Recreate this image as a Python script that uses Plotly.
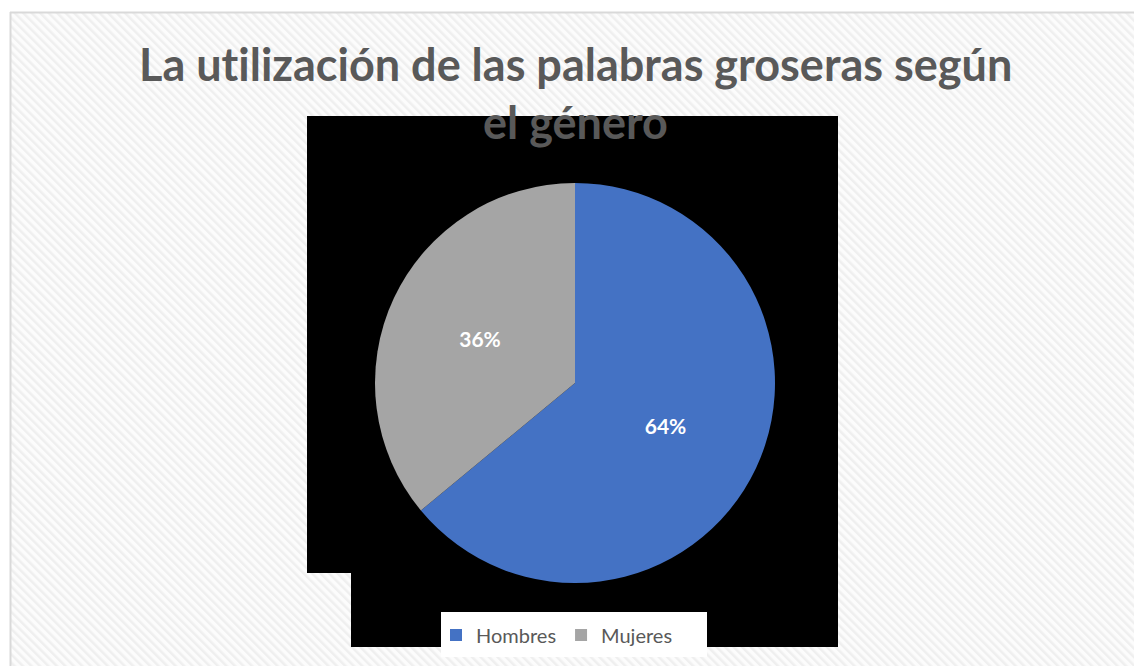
import plotly.graph_objects as go

W, H = 1134, 666

labels = ["Hombres", "Mujeres"]
values = [64, 36]
colors = ["#4472C4", "#A5A5A5"]
title_lines = ["La utilización de las palabras groseras según", "el género"]

def px(x):
    return x / W

def py(y):
    return 1 - y / H

fig = go.Figure()
fig.add_trace(go.Pie(
    labels=labels, values=values, sort=False, direction="clockwise", rotation=0,
    marker=dict(colors=colors, line=dict(width=0)),
    texttemplate="%{percent:.0%}", textinfo="percent", textposition="inside",
    insidetextorientation="horizontal",
    textfont=dict(family="Lato", size=21, color="white", weight="bold"),
    domain=dict(x=[px(375), px(775)], y=[py(583), py(183)]),
    hoverinfo="label+percent",
))

# hatched background as SVG pattern image
svg = ("<svg xmlns='http://www.w3.org/2000/svg' width='1134' height='666'>"
       "<defs><pattern id='p' width='6' height='6' patternUnits='userSpaceOnUse' patternTransform='rotate(-45)'>"
       "<rect width='6' height='6' fill='%23fcfcfc'/><rect width='2.5' height='6' fill='%23efefef'/></pattern></defs>"
       "<rect width='1134' height='666' fill='url(%23p)'/></svg>")
fig.add_layout_image(dict(source="data:image/svg+xml;utf8," + svg, xref="paper", yref="paper",
                          x=0, y=1, sizex=1, sizey=1, xanchor="left", yanchor="top",
                          sizing="stretch", layer="below"))

shapes = [
    dict(type="rect", xref="paper", yref="paper", x0=0, x1=1, y0=py(12), y1=1,
         fillcolor="white", line=dict(width=0), layer="below"),
    dict(type="rect", xref="paper", yref="paper", x0=0, x1=px(10), y0=0, y1=1,
         fillcolor="white", line=dict(width=0), layer="below"),
    dict(type="line", xref="paper", yref="paper", x0=px(10.5), x1=px(10.5), y0=0, y1=py(12),
         line=dict(color="#d9d9d9", width=2), layer="below"),
    dict(type="line", xref="paper", yref="paper", x0=px(10), x1=1, y0=py(12.5), y1=py(12.5),
         line=dict(color="#d9d9d9", width=2), layer="below"),
    dict(type="rect", xref="paper", yref="paper", x0=px(307), x1=px(838), y0=py(573), y1=py(116),
         fillcolor="black", line=dict(width=0), layer="below"),
    dict(type="rect", xref="paper", yref="paper", x0=px(351), x1=px(838), y0=py(647), y1=py(573),
         fillcolor="black", line=dict(width=0), layer="below"),
    dict(type="rect", xref="paper", yref="paper", x0=px(441), x1=px(707), y0=py(657), y1=py(612),
         fillcolor="white", line=dict(width=0), layer="below"),
]

def nolig(t):
    return "<span style='font-variant-ligatures:none'>" + t + "</span>"

title_font = dict(family="Lato", size=45, color="#595959", weight="bold")
annotations = [
    dict(text=nolig(title_lines[0]), x=px(575), y=py(64), xref="paper", yref="paper",
         showarrow=False, xanchor="center", yanchor="middle", font=title_font),
    dict(text=nolig(title_lines[1]), x=px(575), y=py(122), xref="paper", yref="paper",
         showarrow=False, xanchor="center", yanchor="middle", font=title_font),
]

fig.update_layout(
    width=W, height=H, margin=dict(l=0, r=0, t=0, b=0),
    paper_bgcolor="white", plot_bgcolor="white",
    shapes=shapes, annotations=annotations,
    showlegend=True,
    legend=dict(orientation="h", x=px(557), y=py(635), xanchor="center", yanchor="middle",
                bgcolor="rgba(0,0,0,0)", font=dict(family="Lato", size=20, color="#595959"),
                itemwidth=30),
)

fig.write_html("out.html")
